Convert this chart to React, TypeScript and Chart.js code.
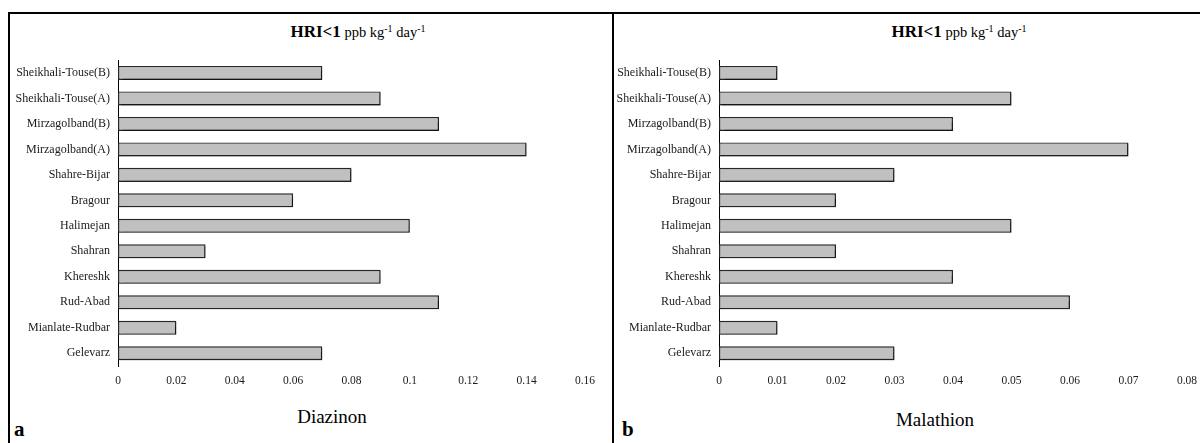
import React, { useEffect, useRef } from 'react';
import { Chart, registerables } from 'chart.js';

Chart.register(...registerables);

const sites: string[] = [
  'Sheikhali-Touse(B)',
  'Sheikhali-Touse(A)',
  'Mirzagolband(B)',
  'Mirzagolband(A)',
  'Shahre-Bijar',
  'Bragour',
  'Halimejan',
  'Shahran',
  'Khereshk',
  'Rud-Abad',
  'Mianlate-Rudbar',
  'Gelevarz',
];

const diazinonValues: number[] = [0.07, 0.09, 0.11, 0.14, 0.08, 0.06, 0.10, 0.03, 0.09, 0.11, 0.02, 0.07];
const malathionValues: number[] = [0.01, 0.05, 0.04, 0.07, 0.03, 0.02, 0.05, 0.02, 0.04, 0.06, 0.01, 0.03];

const diazinonAxis = { max: 0.16, step: 0.02 };
const malathionAxis = { max: 0.08, step: 0.01 };

const SERIF = '"Liberation Serif", "Times New Roman", serif';

const shadowPlugin = {
  id: 'barShadow',
  beforeDatasetDraw(chart: any) {
    const ctx = chart.ctx;
    ctx.save();
    ctx.shadowColor = 'rgba(0,0,0,0.45)';
    ctx.shadowOffsetX = 1.5;
    ctx.shadowOffsetY = 1.5;
    ctx.shadowBlur = 1.5;
  },
  afterDatasetDraw(chart: any) {
    chart.ctx.restore();
  },
};

function BarPanel(props: {
  label: string;
  values: number[];
  axis: { max: number; step: number };
  left: number;
  width: number;
}) {
  const ref = useRef<HTMLCanvasElement | null>(null);
  useEffect(() => {
    if (!ref.current) return;
    const chart = new Chart(ref.current, {
      type: 'bar',
      data: {
        labels: sites,
        datasets: [
          {
            label: props.label,
            data: props.values,
            backgroundColor: '#c0c0c0',
            borderColor: '#262626',
            borderWidth: 1.4,
            borderSkipped: false,
            categoryPercentage: 1,
            barPercentage: 0.55,
          },
        ],
      },
      options: {
        indexAxis: 'y',
        responsive: false,
        animation: false,
        maintainAspectRatio: false,
        layout: { padding: { top: 11, right: 15, bottom: 0, left: 0 } },
        plugins: {
          legend: { display: false },
          tooltip: { enabled: false },
          title: { display: false },
        },
        scales: {
          y: {
            grid: { display: false, drawTicks: false },
            border: { display: true, color: '#000', width: 1 },
            ticks: {
              color: '#1a1a1a',
              padding: 8,
              autoSkip: false,
              font: { family: SERIF, size: 12 },
            },
            afterFit: (s: any) => {
              s.width = 108;
            },
          },
          x: {
            min: 0,
            max: props.axis.max,
            grid: { display: false, drawTicks: false },
            border: { display: false },
            ticks: {
              stepSize: props.axis.step,
              color: '#1a1a1a',
              padding: 8,
              maxRotation: 0,
              autoSkip: false,
              font: { family: SERIF, size: 11.5 },
              callback: (v: any) => String(Number(Number(v).toFixed(2))),
            },
            afterFit: (s: any) => {
              s.height = 29;
            },
          },
        },
      },
      plugins: [shadowPlugin],
    });
    return () => chart.destroy();
  }, []);
  return (
    <canvas
      ref={ref}
      width={props.width}
      height={350}
      style={{ position: 'absolute', left: props.left, top: 45, width: props.width, height: 350 }}
    />
  );
}

function Title(props: { center: number }) {
  return (
    <div
      style={{
        position: 'absolute',
        left: props.center - 150,
        width: 300,
        top: 18,
        textAlign: 'center',
        fontFamily: SERIF,
        color: '#000',
        whiteSpace: 'nowrap',
        lineHeight: '22px',
      }}
    >
      <span style={{ fontWeight: 'bold', fontSize: 17 }}>HRI&lt;1</span>
      <span style={{ fontSize: 14.5 }}>
        {' '}ppb kg<sup style={{ fontSize: 10, verticalAlign: 5 }}>-1</sup> day
        <sup style={{ fontSize: 10, verticalAlign: 5 }}>-1</sup>
      </span>
    </div>
  );
}

export default function App() {
  return (
    <div
      style={{
        position: 'absolute',
        left: 0,
        top: 0,
        width: 1200,
        height: 443,
        overflow: 'hidden',
        background: '#fff',
      }}
    >
      <div style={{ position: 'absolute', left: 8, top: 12, width: 1192, height: 1.5, background: '#000' }} />
      <div style={{ position: 'absolute', left: 8, top: 12, width: 1.5, height: 431, background: '#000' }} />
      <div style={{ position: 'absolute', left: 612, top: 12, width: 1.5, height: 431, background: '#000' }} />

      <Title center={358} />
      <Title center={959} />

      <BarPanel label="Diazinon" values={diazinonValues} axis={diazinonAxis} left={10} width={593} />
      <BarPanel label="Malathion" values={malathionValues} axis={malathionAxis} left={611} width={594} />

      <div style={{ position: 'absolute', left: 232, width: 200, top: 405, textAlign: 'center', fontFamily: SERIF, fontSize: 19, lineHeight: '24px' }}>
        Diazinon
      </div>
      <div style={{ position: 'absolute', left: 835, width: 200, top: 408, textAlign: 'center', fontFamily: SERIF, fontSize: 19, lineHeight: '24px' }}>
        Malathion
      </div>

      <div style={{ position: 'absolute', left: 14, top: 416, fontFamily: SERIF, fontWeight: 'bold', fontSize: 21, lineHeight: '26px' }}>a</div>
      <div style={{ position: 'absolute', left: 622, top: 416, fontFamily: SERIF, fontWeight: 'bold', fontSize: 21, lineHeight: '26px' }}>b</div>
    </div>
  );
}
